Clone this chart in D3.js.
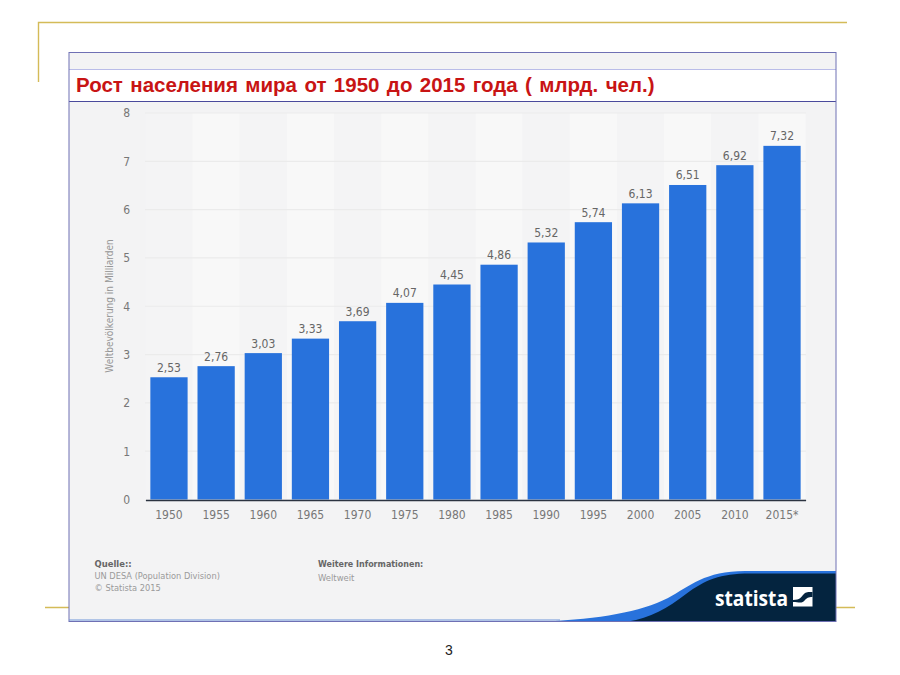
<!DOCTYPE html>
<html>
<head>
<meta charset="utf-8">
<title>Рост населения мира</title>
<script src="https://d3js.org/d3.v7.min.js"></script>
<style>
  html, body { margin: 0; padding: 0; background: #fff; }
  svg { display: block; }
  text { font-family: "DejaVu Sans Condensed", "DejaVu Sans", sans-serif; font-stretch: condensed; }
</style>
</head>
<body>
<div id="chart"></div>
<script>
// chart values
var years = ["1950","1955","1960","1965","1970","1975","1980","1985","1990","1995","2000","2005","2010","2015*"];
var population = [2.53,2.76,3.03,3.33,3.69,4.07,4.45,4.86,5.32,5.74,6.13,6.51,6.92,7.32];
var yTicks = [0,1,2,3,4,5,6,7,8];
var titleText = "Рост населения мира от 1950 до 2015 года ( млрд. чел.)";
var yAxisTitle = "Weltbevölkerung in Milliarden";
var sourceLines = ["UN DESA (Population Division)", "© Statista 2015"];

var svg = d3.select("#chart").append("svg")
  .attr("width", 900)
  .attr("height", 675);

svg.append("rect").attr("width", 900).attr("height", 675).attr("fill", "#fff");

// gold slide frame
var gold = "#d4bb58";
svg.append("path")
  .attr("d", "M38.5,82V22.5H847M45,607.5H69M836,607.5H855")
  .attr("fill", "none")
  .attr("stroke", gold)
  .attr("stroke-width", 1.4);

// grey panel of the picture
svg.append("rect")
  .attr("x", 69).attr("y", 52.5)
  .attr("width", 767).attr("height", 569)
  .attr("fill", "#f3f3f4");

var x = d3.scaleBand()
  .domain(years)
  .range([145.4, 805.6])
  .paddingInner(0.21)
  .paddingOuter(0.105);

var y = d3.scaleLinear()
  .domain([0, 8])
  .range([499.5, 113]);

// alternating column stripes
svg.selectAll(".stripe")
  .data(years)
  .enter()
  .append("rect")
  .attr("class", "stripe")
  .attr("x", function (d) { return x(d) - x.step() * 0.105; })
  .attr("y", y(8))
  .attr("width", x.step())
  .attr("height", y(0) - y(8))
  .attr("fill", function (d, i) { return i % 2 ? "#f8f8f8" : "#f4f4f5"; });

// grid lines
svg.selectAll(".grid")
  .data(yTicks.slice(1))
  .enter()
  .append("line")
  .attr("class", "grid")
  .attr("x1", 145).attr("x2", 806)
  .attr("y1", function (d) { return y(d); })
  .attr("y2", function (d) { return y(d); })
  .attr("stroke", "#ebebeb")
  .attr("stroke-width", 1.2);

// bars
svg.selectAll(".bar")
  .data(population)
  .enter()
  .append("rect")
  .attr("class", "bar")
  .attr("x", function (d, i) { return x(years[i]); })
  .attr("y", function (d) { return y(d); })
  .attr("width", x.bandwidth())
  .attr("height", function (d) { return y(0) - y(d); })
  .attr("fill", "#2872dc");

// value labels, comma decimals as in the picture
svg.selectAll(".value")
  .data(population)
  .enter()
  .append("text")
  .attr("class", "value")
  .attr("x", function (d, i) { return x(years[i]) + x.bandwidth() / 2; })
  .attr("y", function (d) { return y(d) - 5.5; })
  .attr("text-anchor", "middle")
  .attr("font-size", 12)
  .attr("fill", "#666")
  .text(function (d) { return d.toFixed(2).replace(".", ","); });

// x axis
var xAxis = svg.append("g")
  .attr("transform", "translate(0,500)")
  .call(d3.axisBottom(x).tickSize(0).tickPadding(10));
xAxis.select(".domain").attr("stroke", "#2b3340").attr("stroke-width", 1.4);
xAxis.selectAll("text").attr("font-size", 12).attr("fill", "#777").style("font-family", "DejaVu Sans Condensed");

// y axis
var yAxis = svg.append("g")
  .attr("transform", "translate(130,0)")
  .call(d3.axisLeft(y).tickValues(yTicks).tickSize(0).tickPadding(0));
yAxis.select(".domain").remove();
yAxis.selectAll("text").attr("font-size", 12).attr("fill", "#777").style("font-family", "DejaVu Sans Condensed");

svg.append("text")
  .attr("transform", "translate(113,306) rotate(-90)")
  .attr("text-anchor", "middle")
  .attr("font-size", 10)
  .attr("fill", "#969696")
  .text(yAxisTitle);

// title box
svg.append("rect")
  .attr("x", 69).attr("y", 69.5)
  .attr("width", 767).attr("height", 32)
  .attr("fill", "#fff")
  .attr("stroke", "none");
svg.append("path")
  .attr("d", "M69,69.5H836")
  .attr("stroke", "#b9bce8")
  .attr("fill", "none");
svg.append("path")
  .attr("d", "M69,101.5H836")
  .attr("stroke", "#4a4a9c")
  .attr("fill", "none");
svg.append("text")
  .attr("x", 76).attr("y", 92)
  .attr("font-size", 20.5)
  .attr("font-weight", "bold")
  .attr("fill", "#c81414")
  .style("font-family", "Liberation Sans")
  .style("font-stretch", "normal")
  .style("word-spacing", "1.7px")
  .text(titleText);

// source block
svg.append("text")
  .attr("x", 94.5).attr("y", 566.5)
  .attr("font-size", 9.4)
  .attr("font-weight", "bold")
  .attr("fill", "#666")
  .text("Quelle::");
svg.selectAll(".source")
  .data(sourceLines)
  .enter()
  .append("text")
  .attr("class", "source")
  .attr("x", 94.5)
  .attr("y", function (d, i) { return 578.5 + i * 12.5; })
  .attr("font-size", 9.2)
  .attr("fill", "#9a9a9a")
  .text(function (d) { return d; });

svg.append("text")
  .attr("x", 318).attr("y", 567)
  .attr("font-size", 8.9)
  .attr("font-weight", "bold")
  .attr("fill", "#666")
  .text("Weitere Informationen:");
svg.append("text")
  .attr("x", 318).attr("y", 581)
  .attr("font-size", 9.4)
  .attr("fill", "#9a9a9a")
  .text("Weltweit");

// statista footer swoosh
svg.append("path")
  .attr("d", "M545,621.5C600,619 640,612 668,598C690,586 705,571 745,571H836V621.5Z")
  .attr("fill", "#2872dc");
svg.append("path")
  .attr("d", "M628,621.5C650,618 668,608 686,594C705,580 720,573.5 750,573.5H836V621.5Z")
  .attr("fill", "#04243f");
svg.append("text")
  .attr("x", 715).attr("y", 606)
  .attr("font-size", 22)
  .attr("font-weight", "bold")
  .attr("fill", "#fff")
  .style("font-family", "Open Sans")
  .style("font-stretch", "normal")
  .attr("textLength", 73)
  .attr("lengthAdjust", "spacingAndGlyphs")
  .text("statista");
svg.append("rect")
  .attr("x", 793).attr("y", 587)
  .attr("width", 19.5).attr("height", 19.5)
  .attr("fill", "#fff");
svg.append("path")
  .attr("d", "M793,600C800,600 801,597 804,594C806,592 808,592 812.5,592V597C808,597 807,598 805,600C802,604 799,602 793,602Z")
  .attr("fill", "#04243f");

// panel border
svg.append("rect")
  .attr("x", 69).attr("y", 52.5)
  .attr("width", 767).attr("height", 569)
  .attr("fill", "none")
  .attr("stroke", "#6f70b4")
  .attr("stroke-width", 1);
svg.append("path")
  .attr("d", "M69,620H560")
  .attr("stroke", "#6d94d8")
  .attr("stroke-width", 1)
  .attr("fill", "none");

// slide number
svg.append("text")
  .attr("x", 449).attr("y", 655)
  .attr("text-anchor", "middle")
  .attr("font-size", 14)
  .attr("fill", "#222")
  .style("font-family", "Liberation Sans")
  .style("font-stretch", "normal")
  .text("3");
</script>
</body>
</html>
